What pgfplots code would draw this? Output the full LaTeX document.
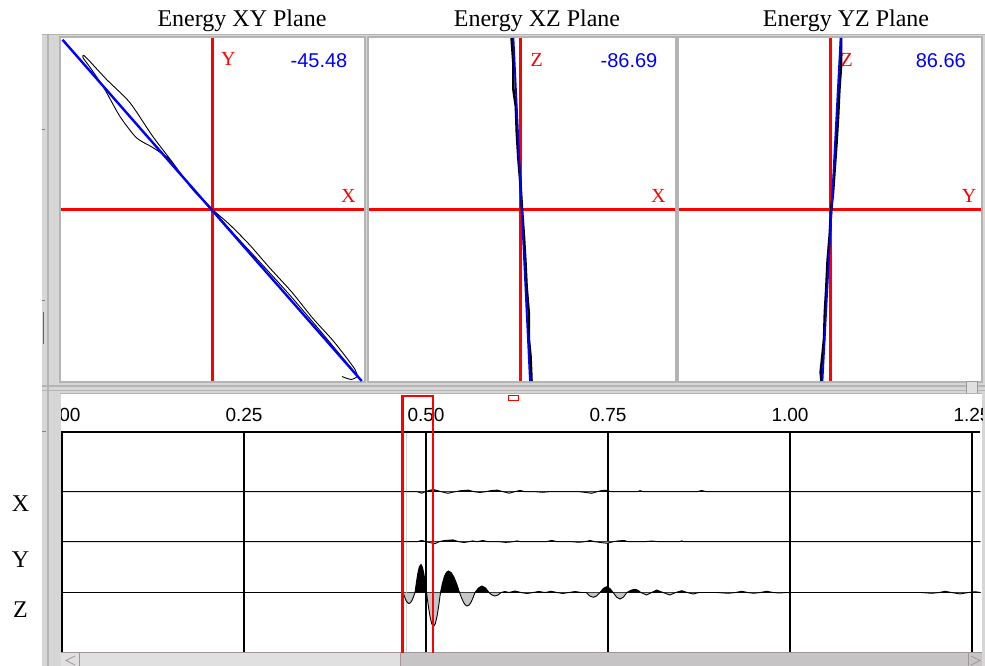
\documentclass[border=0pt]{standalone}
\usepackage{fontspec}
\setmainfont{Liberation Serif}
\newfontfamily\sansf{Liberation Sans}
\usepackage{pgfplots}
\usepackage{pgfplotstable}
\pgfplotsset{compat=1.18}
\definecolor{frame}{RGB}{214,214,214}
\definecolor{frameD}{RGB}{180,180,180}
\definecolor{lobe}{RGB}{198,198,198}
\definecolor{thumb}{RGB}{224,224,224}
\definecolor{track}{RGB}{198,196,196}
\definecolor{sbline}{RGB}{160,150,150}

\pgfplotstableread{
t a
0.0000 0
0.4684 0
0.4705 -4.2
0.4725 -7.8
0.4746 -10.2
0.4766 -11
0.4787 -10.2
0.4808 -7.8
0.4828 -4.2
0.4849 0
0.4869 10.7
0.4889 19.8
0.4909 25.9
0.4932 28
0.4952 25
0.4970 19
0.4989 10.5
0.5007 0
0.5031 -13
0.5055 -24
0.5079 -31.4
0.5103 -34
0.5127 -31.4
0.5151 -24
0.5175 -13
0.5199 0
0.5225 9
0.5252 16
0.5279 20
0.5306 21.5
0.5345 20
0.5383 15.5
0.5422 8.5
0.5460 0
0.5487 -5.2
0.5513 -9.5
0.5540 -12.5
0.5566 -13.5
0.5593 -12.5
0.5620 -9.5
0.5646 -5.2
0.5673 0
0.5721 4.6
0.5769 6.5
0.5817 4.6
0.5865 0
0.5906 -2.5
0.5948 -3.5
0.5989 -2.5
0.6030 0
0.6085 1
0.6140 0
0.6223 1.5
0.6305 0
0.6387 -1
0.6470 0
0.6550 1
0.6635 0
0.6717 1.2
0.6800 0
0.6880 -1
0.6964 0
0.7047 1
0.7130 0
0.7200 0
0.7249 -3.4
0.7298 -4.8
0.7344 -3.4
0.7390 0
0.7436 4.1
0.7482 5.8
0.7526 4.1
0.7570 0
0.7618 -4.6
0.7665 -6.5
0.7712 -4.6
0.7760 0
0.7815 2.3
0.7870 3.2
0.7910 2.3
0.7950 0
0.8030 -2.5
0.8100 0
0.8169 2.5
0.8255 0
0.8350 -2.5
0.8430 0
0.8512 1.8
0.8590 0
0.8668 -1.5
0.8750 0
0.9000 0
0.9150 -0.8
0.9250 0
0.9337 1.2
0.9420 0
0.9500 -0.8
0.9590 0
0.9680 1.2
0.9770 0
0.9850 -0.5
0.9955 0
1.1800 0
1.1950 -0.8
1.2050 0
1.2129 1.2
1.2220 0
1.2335 -1.5
1.2450 0
1.2540 0.8
1.2620 0
}\Zdata

\pgfplotstableread{
t a
0.0000 0
0.4684 0
0.4880 0
0.4941 -1.5
0.4990 0
0.5040 1.2
0.5100 2.2
0.5160 1
0.5210 0
0.5300 -1.6
0.5400 0
0.5480 1
0.5580 1.6
0.5660 0
0.5740 -0.8
0.5820 0
0.5900 1.2
0.5980 1.6
0.6060 0
0.6140 -1.5
0.6220 0
0.6290 1.3
0.6360 0
0.6500 0
0.6600 -0.6
0.6700 0
0.7100 0
0.7200 -0.8
0.7276 -1.6
0.7350 0
0.7420 1.2
0.7480 1.5
0.7540 0
0.7900 0
0.7940 1
0.7990 0
0.8720 0
0.8787 1.2
0.8850 0
1.2620 0
}\Xdata

\pgfplotstableread{
t a
0.0000 0
0.4684 0
0.4880 0
0.4941 1.3
0.5000 0
0.5070 -1.2
0.5124 -2
0.5180 0
0.5250 1.2
0.5370 1.8
0.5450 0
0.5520 -0.8
0.5590 0
0.5640 0.8
0.5700 0
0.5780 1.2
0.5850 0
0.6000 0
0.6100 -0.7
0.6200 0
0.6250 0.8
0.6300 0
0.6650 0
0.6727 1.3
0.6800 0
0.7000 0
0.7100 -0.6
0.7180 0
0.7253 1.2
0.7320 0
0.7420 -1
0.7490 -1.6
0.7570 0
0.7640 0.8
0.7720 1.2
0.7780 0
0.8000 0
0.8100 0.7
0.8200 0
0.8480 0
0.8512 0.8
0.8550 0
1.2620 0
}\Ydata

\pgfplotstableread{
x y
0.855 -0.974
0.914 -0.991
0.954 -0.974
0.941 -0.933
0.868 -0.845
0.789 -0.758
0.658 -0.630
0.526 -0.484
0.375 -0.338
0.243 -0.204
0.112 -0.087
0.000 0.000
-0.132 0.117
-0.263 0.274
-0.395 0.427
-0.546 0.624
-0.699 0.758
-0.809 0.863
-0.849 0.898
-0.855 0.886
-0.798 0.816
-0.711 0.700
-0.612 0.544
-0.502 0.418
-0.395 0.362
-0.283 0.292
-0.197 0.194
-0.086 0.078
0.000 0.000
0.145 -0.146
0.309 -0.303
0.507 -0.496
0.704 -0.700
0.868 -0.875
0.934 -0.945
}\XYloop

\pgfplotstableread{
x y
-0.068 1.00
-0.056 0.85
-0.056 0.70
-0.040 0.60
-0.034 0.45
-0.024 0.30
-0.010 0.15
0.000 0.00
0.012 -0.15
0.022 -0.30
0.030 -0.45
0.044 -0.60
0.044 -0.75
0.055 -0.85
0.060 -0.95
0.062 -1.00
}\XZtrace

\pgfplotstableread{
x y
0.074 1.00
0.074 0.85
0.062 0.70
0.054 0.55
0.044 0.40
0.032 0.25
0.020 0.10
0.008 0.00
-0.002 -0.15
-0.016 -0.30
-0.024 -0.45
-0.034 -0.60
-0.039 -0.75
-0.050 -0.85
-0.062 -0.95
-0.056 -1.00
}\YZtrace

\pgfplotsset{panel/.style={scale only axis, anchor=south west,
  xmin=-1, xmax=1, ymin=-1, ymax=1,
  axis line style={draw=none}, ticks=none, clip=true}}

\newcommand{\ttl}{\fontsize{24}{28}\selectfont}
\newcommand{\rl}{\fontsize{20}{22}\selectfont}
\newcommand{\bl}{\sansf\fontsize{20}{22}\selectfont}

\begin{document}
\begin{tikzpicture}[x=1pt,y=1pt]
\useasboundingbox (0,0) rectangle (985,-666);
\fill[white] (0,0) rectangle (985,-666);
% window frame
\fill[frame] (42,-34) rectangle (985,-666);
\fill[frameD] (46.5,-34) rectangle (48.5,-666);
\draw[frameD, line width=1pt] (42,-34.5) -- (985,-34.5);
% top panels
\fill[white] (61,-38) rectangle (364,-381);
\fill[white] (369,-38) rectangle (675,-381);
\fill[white] (679,-38) rectangle (981,-381);
\draw[frameD, line width=1.2pt] (60,-37) rectangle (365,-382);
\draw[frameD, line width=1.2pt] (368,-37) rectangle (676,-382);
\draw[frameD, line width=1.2pt] (678,-37) rectangle (982,-382);
% divider
\draw[frameD, line width=1.5pt] (42,-386) -- (985,-386);
\draw[frameD, line width=1pt] (42,-390) -- (985,-390);
\fill[thumb] (966,-381) rectangle (977,-393);
\draw[sbline, line width=1pt] (966,-381) rectangle (977,-393);
% left small marks
\draw[gray, line width=1pt] (42,-130) -- (45,-130);
\draw[gray, line width=1pt] (42,-300) -- (45,-300);
\draw[gray!80!black, line width=1.2pt] (43.5,-312) -- (43.5,-344);
\draw[gray, line width=1pt] (42,-431) -- (46,-431);
% lower panel background
\fill[white] (61,-394) rectangle (982,-652);
\draw[frameD, line width=1pt] (60,-393.5) -- (982,-393.5);
% scrollbar
\fill[track] (61,-652) rectangle (982,-666);
\fill[thumb] (61,-653) rectangle (400,-666);
\draw[sbline, line width=1.2pt] (61,-652.5) -- (982,-652.5);
\draw[sbline, line width=1pt] (400,-653) -- (400,-666);
\draw[sbline, line width=0.8pt] (79,-653) -- (79,-666);
\draw[sbline, line width=0.8pt] (75,-656) -- (66,-660.5) -- (75,-665);
\draw[sbline, line width=0.8pt] (968,-653) -- (968,-666);
\draw[sbline, line width=0.8pt] (971,-656) -- (980,-660.5) -- (971,-665);

% titles
\node[anchor=base] at (242,-27) {\ttl Energy XY Plane};
\node[anchor=base] at (537,-27) {\ttl Energy XZ Plane};
\node[anchor=base] at (846,-27) {\ttl Energy YZ Plane};

% ---- XY panel
\begin{axis}[panel, at={(61pt,-381pt)}, width=303pt, height=343pt]
\addplot[red, line width=2.5pt] coordinates {(-1,0) (1,0)};
\addplot[red, line width=2.5pt] coordinates {(0,-1) (0,1)};
\addplot[black, line width=0.9pt, smooth, tension=0.4] table {\XYloop};
\addplot[blue, line width=2.4pt] coordinates {(-0.99,0.99) (0.985,-1)};
\end{axis}
% ---- XZ panel
\begin{axis}[panel, at={(369pt,-381pt)}, width=306pt, height=343pt]
\addplot[red, line width=2.5pt] coordinates {(-1,0) (1,0)};
\addplot[red, line width=2.5pt] coordinates {(-0.01,-1) (-0.01,1)};
\addplot[black, line width=2.6pt] table {\XZtrace};
\addplot[blue, line width=1.8pt] coordinates {(-0.056,1) (0.052,-1)};
\end{axis}
% ---- YZ panel
\begin{axis}[panel, at={(679pt,-381pt)}, width=302pt, height=343pt]
\addplot[red, line width=2.5pt] coordinates {(-1,0) (1,0)};
\addplot[red, line width=2.5pt] coordinates {(0.003,-1) (0.003,1)};
\addplot[black, line width=2.6pt] table {\YZtrace};
\addplot[blue, line width=1.8pt] coordinates {(0.07,1) (-0.05,-1)};
\end{axis}

% panel labels
\node[anchor=base, red] at (228.3,-65.7) {\rl Y};
\node[anchor=base, red] at (348.3,-202.7) {\rl X};
\node[anchor=base, blue] at (319,-67.3) {\bl -45.48};
\node[anchor=base, red] at (536.7,-66.7) {\rl Z};
\node[anchor=base, red] at (658.3,-202.7) {\rl X};
\node[anchor=base, blue] at (629,-67.3) {\bl -86.69};
\node[anchor=base, red] at (846.7,-66.7) {\rl Z};
\node[anchor=base, red] at (969,-202.7) {\rl Y};
\node[anchor=base, blue] at (940.8,-67.3) {\bl 86.66};

% trace labels
\node[anchor=base] at (20.5,-511) {\ttl X};
\node[anchor=base] at (20.5,-567) {\ttl Y};
\node[anchor=base] at (20.5,-617) {\ttl Z};

% ---- lower seismogram panel
\begin{scope}
\clip (61,-394) rectangle (982,-652);
\begin{axis}[at={(61pt,-652pt)}, anchor=south west, scale only axis,
  width=919pt, height=220pt,
  xmin=-0.0014, xmax=1.2610, ymin=-652, ymax=-432,
  axis line style={draw=none},
  xtick={0,0.25,0.5,0.75,1,1.25},
  xticklabels={0.00,0.25,0.50,0.75,1.00,1.25},
  xticklabel pos=upper,
  xticklabel style={font=\sansf\fontsize{19}{19}\selectfont, anchor=south, inner sep=0pt, yshift=10pt},
  ytick={-592.5,-541.7,-491.7}, yticklabels={},
  major tick length=0pt,
  xmajorgrids, ymajorgrids,
  grid style={black, line width=1.1pt},
  clip=false]
\draw[gray!35, line width=0.8pt] (axis cs:0.4725,-432) -- (axis cs:0.4725,-652);
% X
\addplot[draw=none, fill=lobe] table[x=t, y expr={min(\thisrow{a},0)-491.7}] {\Xdata} -- cycle;
\addplot[draw=none, fill=black] table[x=t, y expr={max(\thisrow{a},0)-491.7}] {\Xdata} -- cycle;
\addplot[black, line width=0.9pt] table[x=t, y expr={\thisrow{a}-491.7}] {\Xdata};
% Y
\addplot[draw=none, fill=lobe] table[x=t, y expr={min(\thisrow{a},0)-541.7}] {\Ydata} -- cycle;
\addplot[draw=none, fill=black] table[x=t, y expr={max(\thisrow{a},0)-541.7}] {\Ydata} -- cycle;
\addplot[black, line width=0.9pt] table[x=t, y expr={\thisrow{a}-541.7}] {\Ydata};
% Z
\addplot[draw=none, fill=lobe] table[x=t, y expr={min(\thisrow{a},0)-592.5}] {\Zdata} -- cycle;
\addplot[draw=none, fill=black] table[x=t, y expr={max(\thisrow{a},0)-592.5}] {\Zdata} -- cycle;
\addplot[black, line width=0.9pt] table[x=t, y expr={\thisrow{a}-592.5}] {\Zdata};
% frame lines
\draw[black, line width=2pt] (rel axis cs:0,1) -- (rel axis cs:1,1);
\draw[black, line width=1.5pt] (rel axis cs:0,0) -- (rel axis cs:0,1);
\end{axis}
% selection box
\draw[red, line width=2.5pt] (402.5,-660) -- (402.5,-396.2) -- (433,-396.2) -- (433,-660);
\end{scope}
\draw[red, line width=1pt, fill=white] (508,-395.5) rectangle (518,-400);
\end{tikzpicture}
\end{document}
